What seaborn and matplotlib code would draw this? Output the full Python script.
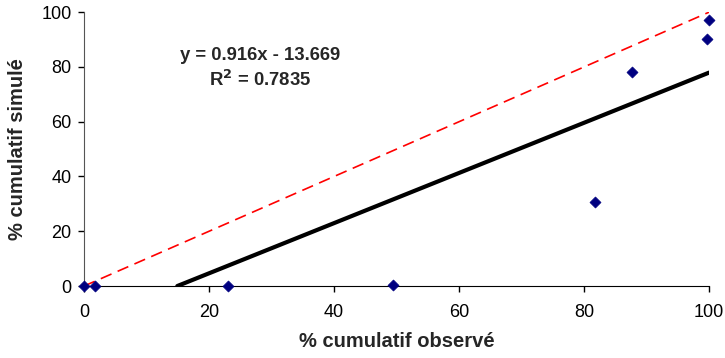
import numpy as np
import pandas as pd
import seaborn as sns
import matplotlib.pyplot as plt

# observed vs simulated cumulative %
observe = [0, 1.7, 23.0, 49.4, 81.8, 87.7, 99.6, 100]
simule = [0, 0, 0, 0.3, 30.6, 78.1, 90.1, 97.3]
pente = 0.916
ordonnee = -13.669
r2 = 0.7835

df = pd.DataFrame({'obs': observe, 'sim': simule})

sns.set_style('white')
plt.rcParams['font.family'] = ['Liberation Sans', 'DejaVu Sans']

fig = plt.figure(figsize=(7.25, 3.58), dpi=100)
ax = fig.add_axes([0.1159, 0.201, 0.8621, 0.765])

# 1:1 line
ligne = pd.DataFrame({'x': [0, 100], 'y': [0, 100]})
sns.lineplot(data=ligne, x='x', y='y', ax=ax, color='red', lw=1.2,
             dashes=False, linestyle=(0, (7, 4)))

# trend line, clipped at y=0 like Excel
x0 = -ordonnee / pente
tend = pd.DataFrame({'x': [x0, 100]})
tend['y'] = pente * tend['x'] + ordonnee
sns.lineplot(data=tend, x='x', y='y', ax=ax, color='black', lw=3)

sns.scatterplot(data=df, x='obs', y='sim', ax=ax, marker='D', color='#000080',
                s=32, edgecolor='#000080', zorder=5, clip_on=False)

ax.set_xlim(0, 100)
ax.set_ylim(0, 100)
ax.set_xticks(range(0, 101, 20))
ax.set_yticks(range(0, 101, 20))
ax.tick_params(axis='both', direction='out', length=4, width=1, labelsize=13,
               colors='black', bottom=True, left=True)
ax.tick_params(axis='x', pad=9)
ax.tick_params(axis='y', pad=5)
for s in ['top', 'right']:
    ax.spines[s].set_visible(False)
ax.spines['left'].set_color('#555555')
ax.spines['bottom'].set_color('black')
ax.set_xlabel('% cumulatif observé', fontsize=14.5, fontweight='bold', labelpad=8)
ax.set_ylabel('% cumulatif simulé', fontsize=14.5, fontweight='bold', labelpad=10)

ax.text(28.2, 84.3, 'y = {}x - {}'.format(pente, abs(ordonnee)), ha='center',
        va='center', fontsize=13.3, fontweight='bold')
ax.text(28.2, 75.2, 'R$^{{\\mathbf{{2}}}}$ = {}'.format(r2), ha='center', va='center',
        fontsize=13.3, fontweight='bold')

fig.savefig('out.png', dpi=100)
